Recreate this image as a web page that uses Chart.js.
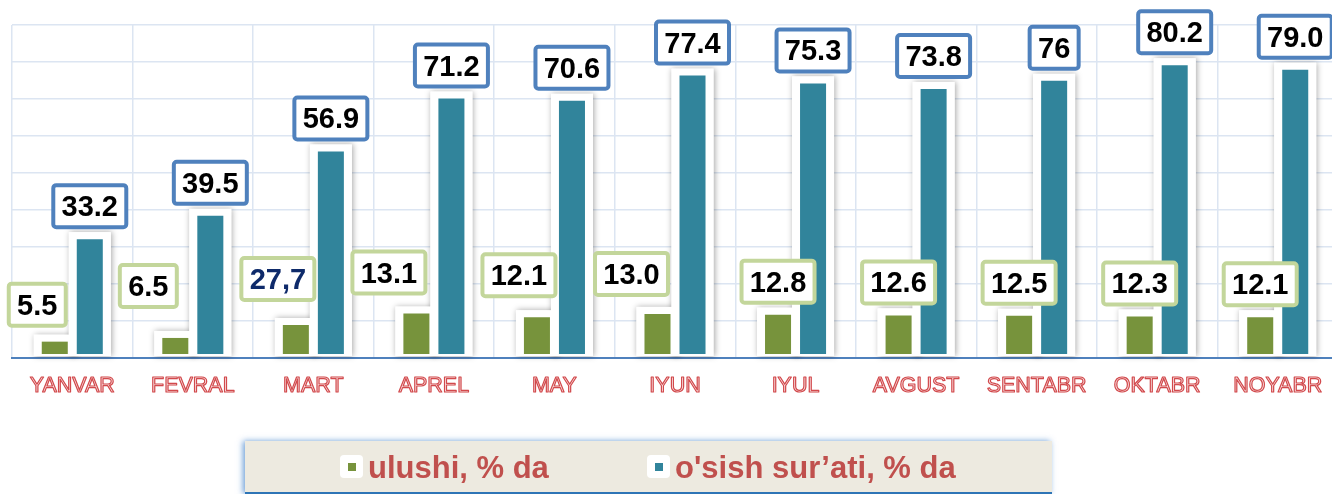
<!DOCTYPE html>
<html>
<head>
<meta charset="utf-8">
<script src="https://cdn.jsdelivr.net/npm/chart.js@4"></script>
<style>
    body { margin: 0; background: #fff; overflow: hidden; }
    #wrap { width: 1332px; height: 494px; overflow: hidden; }
</style>
</head>
<body>
<div id="wrap"><canvas id="barChart" width="1340" height="494"></canvas></div>
<script>
const months = ['YANVAR', 'FEVRAL', 'MART', 'APREL', 'MAY', 'IYUN', 'IYUL', 'AVGUST', 'SENTABR', 'OKTABR', 'NOYABR'];
// ulushi: bar heights (MART bar is drawn at ~10 though its box says 27,7)
const ulushi = [5.5, 6.5, 10.0, 13.1, 12.1, 13.0, 12.8, 12.6, 12.5, 12.3, 12.1];
const ulushiText = ['5.5', '6.5', '27,7', '13.1', '12.1', '13.0', '12.8', '12.6', '12.5', '12.3', '12.1'];
const osish = [33.2, 39.5, 56.9, 71.2, 70.6, 77.4, 75.3, 73.8, 76, 80.2, 79.0];
const osishText = ['33.2', '39.5', '56.9', '71.2', '70.6', '77.4', '75.3', '73.8', '76', '80.2', '79.0'];
const legendNames = ['ulushi, % da', 'o\'sish sur\u2019ati, % da'];

const FONT = '"Liberation Sans", Arial, sans-serif';
const GREEN = '#77933C';
const TEAL = '#31849B';

// the axis zero sits a little under the plot bottom, like in the original
const Y_MIN = 1.08;
const Y_STEP = 10;

// white shadowed frames behind every bar
const barFrames = {
    id: 'barFrames',
    beforeDatasetsDraw(chart) {
        const ctx = chart.ctx;
        const bottom = chart.chartArea.bottom - 2;
        const rects = [];
        chart.data.datasets.forEach((ds, i) => {
            chart.getDatasetMeta(i).data.forEach(bar => {
                rects.push([bar.x - bar.width / 2 - 8, bar.y - 7, bar.width + 16, bottom - bar.y + 7]);
            });
        });
        ctx.save();
        ctx.fillStyle = '#fff';
        ctx.shadowColor = 'rgba(0,0,0,0.35)';
        ctx.shadowBlur = 6;
        ctx.shadowOffsetX = 1;
        rects.forEach(r => ctx.fillRect(r[0], r[1], r[2], r[3]));
        ctx.shadowColor = 'transparent';
        rects.forEach(r => ctx.fillRect(r[0], r[1], r[2], r[3]));
        ctx.restore();
    }
};

function drawBox(ctx, text, cx, bottom, border, color) {
    ctx.font = 'bold 29px ' + FONT;
    const w = Math.round(ctx.measureText(text).width + 21);
    const h = 46;
    const x = cx - w / 2;
    const y = bottom - h;
    ctx.beginPath();
    ctx.roundRect(x + 2, y + 2, w - 4, h - 4, 3);
    ctx.fillStyle = '#fff';
    ctx.fill();
    ctx.lineWidth = 4;
    ctx.strokeStyle = border;
    ctx.stroke();
    ctx.fillStyle = color;
    ctx.textAlign = 'center';
    ctx.textBaseline = 'alphabetic';
    ctx.fillText(text, cx, y + 33);
}

// value boxes; the first green boxes were pushed aside by hand in the original
const greenShiftX = [-17.5, -27, -18, -27.5, -18, -26, 0, 0, 0, 0, 0];
const greenShiftY = [-4, -19, -13, -8, -9, -7, 0, 0, 0, 0, 0];

const valueBoxes = {
    id: 'valueBoxes',
    afterDatasetsDraw(chart) {
        const ctx = chart.ctx;
        ctx.save();
        chart.getDatasetMeta(1).data.forEach((bar, i) => {
            drawBox(ctx, osishText[i], bar.x, bar.y - 10, '#4F81BD', '#000');
        });
        chart.getDatasetMeta(0).data.forEach((bar, i) => {
            const color = ulushiText[i].indexOf(',') >= 0 ? '#0E2A6A' : '#000';
            drawBox(ctx, ulushiText[i], bar.x + greenShiftX[i], bar.y - 10 + greenShiftY[i], '#C3D69B', color);
        });
        ctx.restore();
    }
};

// outlined month names and the boxed legend
const extras = {
    id: 'extras',
    afterDraw(chart) {
        const ctx = chart.ctx;
        const xs = chart.scales.x;
        ctx.save();
        ctx.font = '21.5px ' + FONT;
        ctx.textAlign = 'center';
        ctx.textBaseline = 'alphabetic';
        ctx.lineJoin = 'round';
        months.forEach((m, i) => {
            const x = xs.getPixelForTick(i);
            ctx.fillStyle = '#FBEAEA';
            ctx.fillText(m, x, 392);
            ctx.lineWidth = 1.2;
            ctx.strokeStyle = '#D2494C';
            ctx.strokeText(m, x, 392);
        });

        // legend box
        const lx = 245, ly = 441, lw = 807, lh = 53;
        ctx.shadowColor = 'rgba(50,120,200,0.7)';
        ctx.shadowBlur = 6;
        ctx.shadowOffsetX = -2;
        ctx.fillStyle = '#EDEAE0';
        ctx.fillRect(lx, ly, lw, lh);
        ctx.shadowColor = 'transparent';
        ctx.fillStyle = '#2E75B6';
        ctx.fillRect(lx, 492, lw, 2);

        const items = [
            { x: 340, textX: 368, color: GREEN },
            { x: 647, textX: 675, color: TEAL }
        ];
        ctx.textAlign = 'left';
        ctx.font = 'bold 31px ' + FONT;
        items.forEach((it, i) => {
            ctx.fillStyle = '#fff';
            ctx.beginPath();
            ctx.roundRect(it.x, 455, 23, 23, 4);
            ctx.fill();
            ctx.fillStyle = it.color;
            ctx.fillRect(it.x + 8, 463, 8, 8);
            ctx.fillStyle = '#C0504D';
            ctx.fillText(legendNames[i], it.textX, 478);
        });
        ctx.restore();
    }
};

const ctx = document.getElementById('barChart').getContext('2d');
const myBarChart = new Chart(ctx, {
    type: 'bar',
    data: {
        labels: months,
        datasets: [{
            label: legendNames[0],
            data: ulushi,
            backgroundColor: GREEN,
            base: 2.16,
            categoryPercentage: 0.581,
            barPercentage: 0.743
        }, {
            label: legendNames[1],
            data: osish,
            backgroundColor: TEAL,
            base: 2.16,
            categoryPercentage: 0.581,
            barPercentage: 0.743
        }]
    },
    options: {
        responsive: false,
        animation: false,
        layout: { padding: { top: 25, left: 12, right: 2, bottom: 0 } },
        plugins: {
            legend: { display: false },
            tooltip: { enabled: false }
        },
        scales: {
            x: {
                grid: { color: '#DCE5F2', lineWidth: 1.5, drawTicks: false, offset: true },
                border: { color: '#4F81BD', width: 2 },
                ticks: { display: false },
                afterFit: scale => { scale.height = 136; }
            },
            y: {
                min: Y_MIN,
                max: Y_MIN + 9 * Y_STEP,
                grid: { color: '#DCE5F2', lineWidth: 1.5, drawTicks: false },
                border: { display: false },
                ticks: { display: false },
                afterBuildTicks: scale => {
                    const ticks = [];
                    for (let i = 0; i <= 9; i++) {
                        ticks.push({ value: Y_MIN + i * Y_STEP });
                    }
                    scale.ticks = ticks;
                }
            }
        }
    },
    plugins: [barFrames, valueBoxes, extras]
});
</script>
</body>
</html>
